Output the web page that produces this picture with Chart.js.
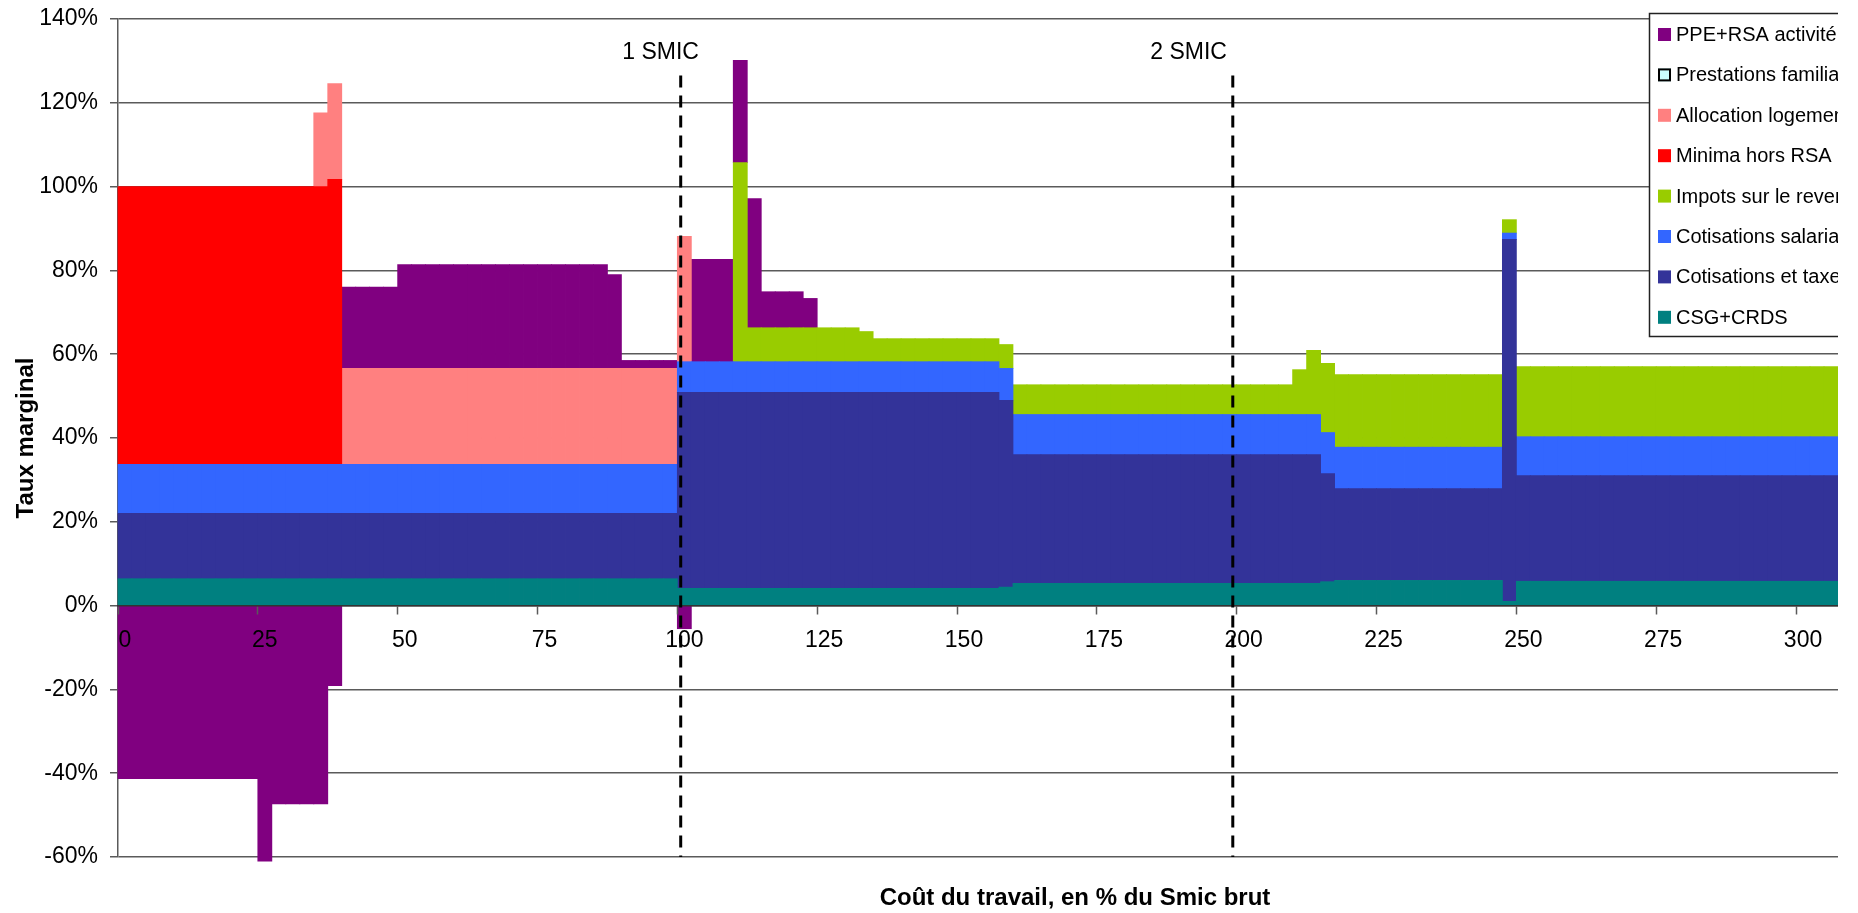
<!DOCTYPE html>
<html lang="fr">
<head>
<meta charset="utf-8">
<title>Taux marginal</title>
<script src="https://cdn.jsdelivr.net/npm/chart.js@4.4.1/dist/chart.umd.min.js"></script>
<style>
  html, body { margin: 0; padding: 0; background: #fff; }
  #wrap { width: 1838px; height: 913px; overflow: hidden; }
  canvas { display: block; }
</style>
</head>
<body>
<div id="wrap"><canvas id="chart" width="1838" height="913"></canvas></div>
<script>
// Coût du travail, en % du Smic brut (one bar per 2.5 points)
const categories = [
  0, 2.5, 5, 7.5, 10, 12.5, 15, 17.5, 20, 22.5,
  25, 27.5, 30, 32.5, 35, 37.5, 40, 42.5, 45, 47.5,
  50, 52.5, 55, 57.5, 60, 62.5, 65, 67.5, 70, 72.5,
  75, 77.5, 80, 82.5, 85, 87.5, 90, 92.5, 95, 97.5,
  100, 102.5, 105, 107.5, 110, 112.5, 115, 117.5, 120, 122.5,
  125, 127.5, 130, 132.5, 135, 137.5, 140, 142.5, 145, 147.5,
  150, 152.5, 155, 157.5, 160, 162.5, 165, 167.5, 170, 172.5,
  175, 177.5, 180, 182.5, 185, 187.5, 190, 192.5, 195, 197.5,
  200, 202.5, 205, 207.5, 210, 212.5, 215, 217.5, 220, 222.5,
  225, 227.5, 230, 232.5, 235, 237.5, 240, 242.5, 245, 247.5,
  250, 252.5, 255, 257.5, 260, 262.5, 265, 267.5, 270, 272.5,
  275, 277.5, 280, 282.5, 285, 287.5, 290, 292.5, 295, 297.5,
  300, 302.5, 305
];

// Labelled positions on the horizontal axis
const xTickLabels = [0, 25, 50, 75, 100, 125, 150, 175, 200, 225, 250, 275, 300];

// Taux marginal, en points de %, by component
const csgCrds = [
  6.4, 6.4, 6.4, 6.4, 6.4, 6.4, 6.4, 6.4, 6.4, 6.4,
  6.4, 6.4, 6.4, 6.4, 6.4, 6.4, 6.4, 6.4, 6.4, 6.4,
  6.4, 6.4, 6.4, 6.4, 6.4, 6.4, 6.4, 6.4, 6.4, 6.4,
  6.4, 6.4, 6.4, 6.4, 6.4, 6.4, 6.4, 6.4, 6.4, 6.4,
  4.1, 4.1, 4.1, 4.1, 4.1, 4.1, 4.1, 4.1, 4.1, 4.1,
  4.1, 4.1, 4.1, 4.1, 4.1, 4.1, 4.1, 4.1, 4.1, 4.1,
  4.1, 4.1, 4.1, 4.4, 5.3, 5.3, 5.3, 5.3, 5.3, 5.3,
  5.3, 5.3, 5.3, 5.3, 5.3, 5.3, 5.3, 5.3, 5.3, 5.3,
  5.3, 5.3, 5.3, 5.3, 5.3, 5.3, 5.7, 6.0, 6.0, 6.0,
  6.0, 6.0, 6.0, 6.0, 6.0, 6.0, 6.0, 6.0, 6.0, 1.0,
  5.8, 5.8, 5.8, 5.8, 5.8, 5.8, 5.8, 5.8, 5.8, 5.8,
  5.8, 5.8, 5.8, 5.8, 5.8, 5.8, 5.8, 5.8, 5.8, 5.8,
  5.8, 5.8, 5.8
];

const cotisationsTaxes = [
  15.6, 15.6, 15.6, 15.6, 15.6, 15.6, 15.6, 15.6, 15.6, 15.6,
  15.6, 15.6, 15.6, 15.6, 15.6, 15.6, 15.6, 15.6, 15.6, 15.6,
  15.6, 15.6, 15.6, 15.6, 15.6, 15.6, 15.6, 15.6, 15.6, 15.6,
  15.6, 15.6, 15.6, 15.6, 15.6, 15.6, 15.6, 15.6, 15.6, 15.6,
  46.8, 46.8, 46.8, 46.8, 46.8, 46.8, 46.8, 46.8, 46.8, 46.8,
  46.8, 46.8, 46.8, 46.8, 46.8, 46.8, 46.8, 46.8, 46.8, 46.8,
  46.8, 46.8, 46.8, 44.6, 30.7, 30.7, 30.7, 30.7, 30.7, 30.7,
  30.7, 30.7, 30.7, 30.7, 30.7, 30.7, 30.7, 30.7, 30.7, 30.7,
  30.7, 30.7, 30.7, 30.7, 30.7, 30.7, 25.8, 21.9, 21.9, 21.9,
  21.9, 21.9, 21.9, 21.9, 21.9, 21.9, 21.9, 21.9, 21.9, 86.4,
  25.2, 25.2, 25.2, 25.2, 25.2, 25.2, 25.2, 25.2, 25.2, 25.2,
  25.2, 25.2, 25.2, 25.2, 25.2, 25.2, 25.2, 25.2, 25.2, 25.2,
  25.2, 25.2, 25.2
];

const cotisationsSalariales = [
  11.7, 11.7, 11.7, 11.7, 11.7, 11.7, 11.7, 11.7, 11.7, 11.7,
  11.7, 11.7, 11.7, 11.7, 11.7, 11.7, 11.7, 11.7, 11.7, 11.7,
  11.7, 11.7, 11.7, 11.7, 11.7, 11.7, 11.7, 11.7, 11.7, 11.7,
  11.7, 11.7, 11.7, 11.7, 11.7, 11.7, 11.7, 11.7, 11.7, 11.7,
  7.3, 7.3, 7.3, 7.3, 7.3, 7.3, 7.3, 7.3, 7.3, 7.3,
  7.3, 7.3, 7.3, 7.3, 7.3, 7.3, 7.3, 7.3, 7.3, 7.3,
  7.3, 7.3, 7.3, 7.6, 9.6, 9.6, 9.6, 9.6, 9.6, 9.6,
  9.6, 9.6, 9.6, 9.6, 9.6, 9.6, 9.6, 9.6, 9.6, 9.6,
  9.6, 9.6, 9.6, 9.6, 9.6, 9.6, 9.8, 9.9, 9.9, 9.9,
  9.9, 9.9, 9.9, 9.9, 9.9, 9.9, 9.9, 9.9, 9.9, 1.5,
  9.3, 9.3, 9.3, 9.3, 9.3, 9.3, 9.3, 9.3, 9.3, 9.3,
  9.3, 9.3, 9.3, 9.3, 9.3, 9.3, 9.3, 9.3, 9.3, 9.3,
  9.3, 9.3, 9.3
];

const impots = [
  0, 0, 0, 0, 0, 0, 0, 0, 0, 0,
  0, 0, 0, 0, 0, 0, 0, 0, 0, 0,
  0, 0, 0, 0, 0, 0, 0, 0, 0, 0,
  0, 0, 0, 0, 0, 0, 0, 0, 0, 0,
  0, 0, 0, 0, 47.5, 8.1, 8.1, 8.1, 8.1, 8.1,
  8.1, 8.1, 8.1, 7.2, 5.5, 5.5, 5.5, 5.5, 5.5, 5.5,
  5.5, 5.5, 5.5, 5.7, 7.1, 7.1, 7.1, 7.1, 7.1, 7.1,
  7.1, 7.1, 7.1, 7.1, 7.1, 7.1, 7.1, 7.1, 7.1, 7.1,
  7.1, 7.1, 7.1, 7.1, 10.7, 15.3, 16.5, 17.3, 17.3, 17.3,
  17.3, 17.3, 17.3, 17.3, 17.3, 17.3, 17.3, 17.3, 17.3, 3.2,
  16.7, 16.7, 16.7, 16.7, 16.7, 16.7, 16.7, 16.7, 16.7, 16.7,
  16.7, 16.7, 16.7, 16.7, 16.7, 16.7, 16.7, 16.7, 16.7, 16.7,
  16.7, 16.7, 16.7
];

const minima = [
  66.3, 66.3, 66.3, 66.3, 66.3, 66.3, 66.3, 66.3, 66.3, 66.3,
  66.3, 66.3, 66.3, 66.3, 66.3, 68.0, 0, 0, 0, 0,
  0, 0, 0, 0, 0, 0, 0, 0, 0, 0,
  0, 0, 0, 0, 0, 0, 0, 0, 0, 0,
  0, 0, 0, 0, 0, 0, 0, 0, 0, 0,
  0, 0, 0, 0, 0, 0, 0, 0, 0, 0,
  0, 0, 0, 0, 0, 0, 0, 0, 0, 0,
  0, 0, 0, 0, 0, 0, 0, 0, 0, 0,
  0, 0, 0, 0, 0, 0, 0, 0, 0, 0,
  0, 0, 0, 0, 0, 0, 0, 0, 0, 0,
  0, 0, 0, 0, 0, 0, 0, 0, 0, 0,
  0, 0, 0, 0, 0, 0, 0, 0, 0, 0,
  0, 0, 0
];

const logement = [
  0, 0, 0, 0, 0, 0, 0, 0, 0, 0,
  0, 0, 0, 0, 17.6, 22.9, 22.9, 22.9, 22.9, 22.9,
  22.9, 22.9, 22.9, 22.9, 22.9, 22.9, 22.9, 22.9, 22.9, 22.9,
  22.9, 22.9, 22.9, 22.9, 22.9, 22.9, 22.9, 22.9, 22.9, 22.9,
  29.9, 0, 0, 0, 0, 0, 0, 0, 0, 0,
  0, 0, 0, 0, 0, 0, 0, 0, 0, 0,
  0, 0, 0, 0, 0, 0, 0, 0, 0, 0,
  0, 0, 0, 0, 0, 0, 0, 0, 0, 0,
  0, 0, 0, 0, 0, 0, 0, 0, 0, 0,
  0, 0, 0, 0, 0, 0, 0, 0, 0, 0,
  0, 0, 0, 0, 0, 0, 0, 0, 0, 0,
  0, 0, 0, 0, 0, 0, 0, 0, 0, 0,
  0, 0, 0
];

const prestations = [
  0, 0, 0, 0, 0, 0, 0, 0, 0, 0,
  0, 0, 0, 0, 0, 0, 0, 0, 0, 0,
  0, 0, 0, 0, 0, 0, 0, 0, 0, 0,
  0, 0, 0, 0, 0, 0, 0, 0, 0, 0,
  0, 0, 0, 0, 0, 0, 0, 0, 0, 0,
  0, 0, 0, 0, 0, 0, 0, 0, 0, 0,
  0, 0, 0, 0, 0, 0, 0, 0, 0, 0,
  0, 0, 0, 0, 0, 0, 0, 0, 0, 0,
  0, 0, 0, 0, 0, 0, 0, 0, 0, 0,
  0, 0, 0, 0, 0, 0, 0, 0, 0, 0,
  0, 0, 0, 0, 0, 0, 0, 0, 0, 0,
  0, 0, 0, 0, 0, 0, 0, 0, 0, 0,
  0, 0, 0
];

const ppeRsa = [
  -41.3, -41.3, -41.3, -41.3, -41.3, -41.3, -41.3, -41.3, -41.3, -41.3,
  -61.0, -47.3, -47.3, -47.3, -47.3, -19.1, 19.4, 19.4, 19.4, 19.4,
  24.8, 24.8, 24.8, 24.8, 24.8, 24.8, 24.8, 24.8, 24.8, 24.8,
  24.8, 24.8, 24.8, 24.8, 24.8, 22.4, 1.9, 1.9, 1.9, 1.9,
  -5.5, 24.4, 24.4, 24.4, 24.4, 30.8, 8.6, 8.6, 8.6, 7.0,
  0, 0, 0, 0, 0, 0, 0, 0, 0, 0,
  0, 0, 0, 0, 0, 0, 0, 0, 0, 0,
  0, 0, 0, 0, 0, 0, 0, 0, 0, 0,
  0, 0, 0, 0, 0, 0, 0, 0, 0, 0,
  0, 0, 0, 0, 0, 0, 0, 0, 0, 0,
  0, 0, 0, 0, 0, 0, 0, 0, 0, 0,
  0, 0, 0, 0, 0, 0, 0, 0, 0, 0,
  0, 0, 0
];

// Reference wage levels marked on the chart (drawn by hand, slightly off the grid)
const smicMarks = [
  { label: '1 SMIC', at: 100.6, labelAt: 97.0 },
  { label: '2 SMIC', at: 199.3, labelAt: 191.4 }
];

const FONT = 'Arial, "Liberation Sans", sans-serif';
Chart.defaults.font.family = FONT;
Chart.defaults.color = '#000';

const GRID = '#5a5a5a';

// Stacked from the bottom up
const series = [
  { label: 'CSG+CRDS', data: csgCrds, color: '#008080' },
  { label: 'Cotisations et taxes employeurs', data: cotisationsTaxes, color: '#333399' },
  { label: 'Cotisations salariales', data: cotisationsSalariales, color: '#3366FF' },
  { label: 'Impots sur le revenu', data: impots, color: '#99CC00' },
  { label: 'Minima hors RSA activité', data: minima, color: '#FF0000' },
  { label: 'Allocation logement', data: logement, color: '#FF8080' },
  { label: 'Prestations familiales', data: prestations, color: '#CCFFFF', outline: true },
  { label: 'PPE+RSA activité', data: ppeRsa, color: '#800080' }
];

const decorations = {
  id: 'decorations',
  afterDraw(chart) {
    const { ctx, chartArea: area, scales: { x, y } } = chart;
    const catW = (x.right - x.left) / categories.length;
    const step = categories[1] - categories[0];
    const xAt = v => x.left + (v / step) * catW;

    ctx.save();

    // dashed SMIC markers
    ctx.strokeStyle = '#000';
    ctx.lineWidth = 3;
    ctx.setLineDash([12, 8]);
    smicMarks.forEach(m => {
      const px = xAt(m.at);
      ctx.beginPath();
      ctx.moveTo(px, y.getPixelForValue(126.5));
      ctx.lineTo(px, area.bottom);
      ctx.stroke();
    });
    ctx.setLineDash([]);

    ctx.fillStyle = '#000';
    ctx.font = `23px ${FONT}`;
    ctx.textAlign = 'center';
    ctx.textBaseline = 'alphabetic';
    smicMarks.forEach(m => ctx.fillText(m.label, xAt(m.labelAt), y.getPixelForValue(130.5)));

    // axis titles
    ctx.font = `bold 24px ${FONT}`;
    ctx.fillText('Coût du travail, en % du Smic brut', 1075, 905);
    ctx.save();
    ctx.translate(33, (area.top + area.bottom) / 2);
    ctx.rotate(-Math.PI / 2);
    ctx.fillText('Taux marginal', 0, 0);
    ctx.restore();

    // legend box, top series first
    const lx = 1649.5, ly = 13.5, lw = 260, lh = 323;
    ctx.fillStyle = '#fff';
    ctx.fillRect(lx, ly, lw, lh);
    ctx.strokeStyle = '#222';
    ctx.lineWidth = 1.5;
    ctx.strokeRect(lx, ly, lw, lh);
    ctx.font = `20px ${FONT}`;
    ctx.textAlign = 'left';
    ctx.textBaseline = 'middle';
    const items = chart.data.datasets.slice().reverse();
    items.forEach((ds, k) => {
      const yc = 34.5 + k * 40.4;
      ctx.fillStyle = ds.backgroundColor;
      ctx.fillRect(1658, yc - 6.5, 13, 13);
      if (ds.outline) {
        ctx.strokeStyle = '#000';
        ctx.lineWidth = 2;
        ctx.strokeRect(1659, yc - 5.5, 11, 11);
      }
      ctx.fillStyle = '#000';
      ctx.fillText(ds.label, 1676, yc + 1);
    });

    ctx.restore();
  }
};

new Chart(document.getElementById('chart'), {
  type: 'bar',
  data: {
    labels: categories,
    datasets: series.map(s => ({
      label: s.label,
      data: s.data,
      backgroundColor: s.color,
      outline: !!s.outline,
      borderWidth: 0,
      inflateAmount: ctx => (ctx.raw ? 0.4 : 0),
      categoryPercentage: 1,
      barPercentage: 1,
      clip: false
    }))
  },
  options: {
    responsive: false,
    animation: false,
    devicePixelRatio: 1,
    layout: { padding: { top: 19, bottom: 56, left: 0, right: 0 } },
    plugins: {
      legend: { display: false },
      tooltip: { enabled: false },
      title: { display: false }
    },
    scales: {
      x: {
        type: 'category',
        stacked: true,
        position: { y: 0 },
        offset: true,
        border: { display: true, color: '#333', width: 1.5, z: 1 },
        grid: {
          z: 1,
          offset: true,
          drawOnChartArea: false,
          drawTicks: true,
          tickLength: 8,
          tickWidth: 1.5,
          tickColor: ctx => xTickLabels.includes(categories[ctx.index]) ? GRID : 'rgba(0,0,0,0)'
        },
        ticks: {
          z: 1,
          autoSkip: false,
          maxRotation: 0,
          minRotation: 0,
          padding: 13,
          font: { size: 23 },
          color: '#000',
          callback(value, index) {
            const c = categories[index];
            return xTickLabels.includes(c) ? String(c) : '';
          }
        },
        afterFit(scale) { scale.paddingLeft = 0; scale.paddingRight = 0; }
      },
      y: {
        stacked: true,
        min: -60,
        max: 140,
        border: { display: true, color: GRID, width: 1.5 },
        grid: { color: GRID, lineWidth: 1.5, tickLength: 8, drawTicks: true },
        ticks: {
          stepSize: 20,
          padding: 12,
          font: { size: 23 },
          color: '#000',
          callback: v => v + '%'
        },
        afterFit(scale) {
          scale.width = 118;
          scale.paddingTop = 0;
          scale.paddingBottom = 0;
        }
      }
    }
  },
  plugins: [decorations]
});
</script>
</body>
</html>
